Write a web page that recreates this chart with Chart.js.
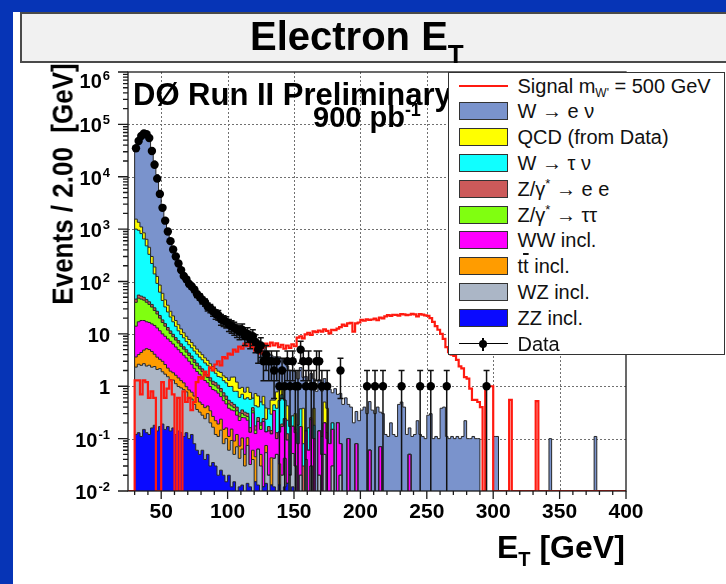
<!DOCTYPE html>
<html>
<head>
<meta charset="utf-8">
<title>Electron ET</title>
<script src="https://cdn.jsdelivr.net/npm/chart.js@4.4.1/dist/chart.umd.min.js"></script>
<style>
  body { margin: 0; width: 726px; height: 584px; overflow: hidden; position: relative;
         background: #0634b6; font-family: "Liberation Sans", Arial, Helvetica, sans-serif; color: #000; }
  #panel { position: absolute; left: 13px; top: 12px; width: 713px; height: 572px; background: #fff; }
  #plot { position: absolute; left: 0; top: 0; }
  .t { position: absolute; white-space: nowrap; line-height: 1; font-weight: bold; }
  #titlebox { position: absolute; left: 20px; top: 12px; width: 720px; height: 51px; box-sizing: border-box;
              background: #f1f1f1; border: 2px solid #4a4a4a; }
  #legend { position: absolute; left: 448px; top: 72px; width: 277px; height: 283px; box-sizing: border-box;
            background: #fff; border: 1.5px solid #333; }
  #legend .row { position: absolute; left: 0; width: 100%; height: 24px; }
  #legend .sw { position: absolute; left: 9.5px; top: 3px; width: 49px; height: 18px; box-sizing: border-box; border: 1px solid #333; }
  #legend .txt { position: absolute; left: 68.5px; top: 0; line-height: 24px; font-size: 20px; white-space: nowrap; color: #111; }
  #legend sub { font-size: 12px; vertical-align: -4px; line-height: 0; }
  #legend sup { font-size: 13px; vertical-align: 8px; line-height: 0; }
  .ob { text-decoration: overline; }
</style>
</head>
<body>
<div id="panel"></div>
<canvas id="plot" width="726" height="584"></canvas>

<div id="titlebox"></div>
<div class="t" style="left:250px; top:16px; font-size:40px;">Electron E<span style="font-size:26px; position:relative; top:13px;">T</span></div>

<div class="t" style="left:133px; top:79px; font-size:31px;">D&Oslash; Run II Preliminary</div>
<div class="t" style="left:313px; top:103px; font-size:29px;">900 pb<span style="font-size:18px; position:relative; top:-11px;">-1</span></div>

<div class="t" style="left:-68px; top:168px; width:260px; height:32px; line-height:32px; text-align:center; font-size:26px; transform:rotate(-90deg) scaleY(1.15);">Events / 2.00&nbsp; [GeV]</div>
<div class="t" style="left:497px; top:531px; font-size:32px;">E<span style="font-size:20px; position:relative; top:8px;">T</span> [GeV]</div>

<div id="legend"></div>

<script>
// binning: 2 GeV bins, first filled bin starts at 30 GeV
var xLo = 25, xHi = 400, firstEdge = 30, binWidth = 2;
var nBins = (xHi - firstEdge) / binWidth;
var yMin = 0.01, yMax = 1e6;

var xTickLabels = [50, 100, 150, 200, 250, 300, 350, 400];
var yDecades = [-2, -1, 0, 1, 2, 3, 4, 5, 6];

// MC backgrounds, events per bin (bins from 30 GeV)
var zzIncl = [
  0.12, 0.13, 0.11, 0.15, 0.13, 0.12, 0.16, 0.18, 0.14, 0.17,
  0.19, 0.15, 0.17, 0.14, 0.16, 0.12, 0.14, 0.13, 0.11, 0.13,
  0.10, 0.12, 0.08, 0.06, 0.05, 0.06, 0.04, 0.05, 0.03, 0.035,
  0.03, 0.02, 0.025, 0.02, 0.015, 0.02, 0.012, 0.015, 0, 0.012,
  0.013, 0, 0.014, 0.012, 0, 0.015, 0.013, 0, 0.012, 0.014,
  0, 0.013, 0.012, 0, 0.013, 0, 0.012, 0.014, 0, 0.012
];
var wzIncl = [
  2.2, 2.5, 2.4, 2.55, 2.3, 2.4, 2.15, 2.2, 1.95, 2.0,
  1.7, 1.55, 1.35, 1.2, 1.15, 1.0, 0.85, 0.8, 0.75, 0.65,
  0.5, 0.45, 0.37, 0.3, 0.27, 0.22, 0.2, 0.25, 0.17, 0.13,
  0.09, 0.09, 0.12, 0.06, 0.085, 0.04, 0.08, 0.035, 0.07, 0.03,
  0.05, 0.03, 0.06, 0.02, 0.04, 0, 0.05, 0.03, 0, 0.04,
  0.02, 0, 0.03, 0.05, 0, 0.02, 0.03, 0, 0.02, 0.04,
  0.03, 0, 0.02, 0, 0.04, 0, 0.03, 0, 0, 0.02,
  0, 0.05, 0, 0, 0.03, 0, 0, 0.02
];
var ttIncl = [
  1.3, 1.4, 1.9, 2.2, 2.8, 2.5, 2.3, 1.7, 1.5, 1.1,
  1.1, 0.9, 0.7, 0.6, 0.5, 0.5, 0.45, 0.35, 0.3, 0.2,
  0.25, 0.2, 0.2, 0.25, 0.18, 0.17, 0.15, 0.12, 0.14, 0.1,
  0.1, 0.08, 0.09, 0.07, 0.06, 0.05, 0.06, 0.04, 0.05, 0.03,
  0.04, 0.02, 0.03, 0, 0.02, 0.03, 0, 0.02, 0, 0.02,
  0, 0.03, 0, 0, 0.02
];
var wwIncl = [
  10.4, 13, 13.6, 13.1, 11.8, 11.5, 10.9, 10.4, 9.4, 8.2,
  7.0, 6.4, 5.8, 5.25, 4.6, 4.0, 3.55, 3.1, 2.75, 2.5,
  2.15, 1.85, 1.55, 1.3, 1.2, 1.05, 0.9, 0.75, 0.65, 0.6,
  0.6, 0.55, 0.4, 0.38, 0.3, 0.27, 0.2, 0.25, 0.16, 0.15,
  0.15, 0.2, 0.12, 0.1, 0.25, 0.08, 0.15, 0.1, 0.2, 0.06,
  0.12, 0.08, 0.3, 0.05, 0.1, 0.15, 0.2, 0.08, 0, 0.12,
  0.1, 0.08, 0.15, 0, 0.1, 0.06, 0.2, 0.1, 0, 0.12,
  0.05, 0.15, 0.1, 0.08, 0.12, 0, 0.2, 0.06, 0, 0,
  0.1, 0, 0, 0.08, 0, 0, 0, 0, 0.06, 0,
  0, 0, 0.07, 0, 0, 0, 0, 0, 0, 0,
  0, 0, 0, 0.05
];
var zTauTau = [
  26, 31, 28, 26, 23, 20, 17, 13.5, 11, 8.5,
  6.5, 5, 3.8, 3.0, 2.4, 2.0, 1.7, 1.4, 1.2, 1.0,
  0.85, 0.75, 0.65, 0.55, 0.45, 0.4, 0.35, 0.3, 0.28, 0.22,
  0.2, 0.18, 0.15, 0.12, 0.1, 0.08, 0.07, 0.05, 0.06, 0.04,
  0.05, 0.03, 0.04, 0, 0.03, 0.02, 0, 0.03
];
var zEE = [
  6, 7, 6.5, 6, 5, 4.5, 4, 3.5, 3, 2.5,
  2, 1.7, 1.4, 1.2, 1.0, 0.85, 0.75, 0.65, 0.55, 0.5,
  0.45, 0.4, 0.35, 0.3, 0.27, 0.25, 0.22, 0.2, 0.18, 0.16,
  0.15, 0.13, 0.12, 0.1, 0.09, 0.08, 0.07, 0.06, 0.06, 0.05,
  0.05, 0.04, 0.04, 0.03, 0.05, 0.03, 0.04, 0.02, 0.03, 0,
  0.03, 0.02, 0, 0.03, 0, 0.02, 0, 0.03, 0, 0,
  0.02, 0, 0, 0.03, 0, 0, 0.02, 0, 0, 0,
  0, 0, 0.03
];
var wTauNu = [
  954, 895, 768, 600, 434, 289, 184, 108, 65, 40,
  25, 17, 13, 9.6, 7.2, 5.5, 4.0, 3.3, 2.75, 2.2,
  1.9, 1.65, 1.5, 1.35, 1.18, 1.05, 0.93, 0.85, 0.74, 0.72,
  0.6, 0.49, 0.58, 0.53, 0.51, 0.45, 0.5, 0.35, 0.4, 0.3,
  0.35, 0.25, 0.3, 0.4, 0.2, 0.25, 0.15, 0.3, 0.2, 0.1,
  0.2, 0.15, 0.1, 0.25, 0.4, 0.5, 0.3, 0.1, 0.15, 0.1,
  0, 0.1, 0.2, 0.05, 0, 0.1, 0, 0.08, 0, 0,
  0.06, 0, 0, 0, 0.05
];
var qcdData = [
  550, 400, 280, 200, 160, 120, 80, 50, 33, 23,
  16, 12, 9, 6, 5, 4, 3.5, 2.7, 2.1, 1.8,
  1.6, 1.4, 1.2, 1.0, 0.9, 0.8, 0.7, 0.6, 0.5, 0.4,
  0.4, 0.4, 0.35, 0.3, 0.3, 0.3, 0.5, 0.7, 0.4, 0.3,
  0.25, 0.2, 0.35, 0.2, 0, 0.3, 0.25, 0, 0.2, 0.15,
  0, 0.25, 0.1, 0.4, 0.5, 0.3, 0, 0.2, 0, 0,
  0.15, 0, 0, 0.3, 0, 0, 0, 0.2, 0, 0,
  0, 0.3, 0.25
];
var wENu = [
  30450, 44650, 56900, 65150, 63360, 54550, 35700, 19810, 10875, 5415,
  2840, 1555, 965, 623, 418, 292, 215, 162, 130, 103,
  84, 71, 60, 52, 45.5, 40, 35.5, 31, 27.3, 24.6,
  22.3, 20, 18.2, 16.4, 15, 13.5, 12.8, 11.6, 10.9, 10,
  9.3, 8.6, 7.9, 7.3, 6.6, 6.1, 5.4, 5.0, 4.6, 4.1,
  3.8, 3.4, 3.1, 2.9, 2.6, 2.4, 2.2, 2.0, 1.85, 1.7,
  1.6, 1.2, 1.9, 1.1, 1.4, 0.9, 1.5, 1.0, 0.8, 1.2,
  0.7, 0.9, 0.6, 0.8, 0.55, 0.9, 0.5, 0.65, 0.45, 0.6,
  0.35, 0.4, 0.2, 0.25, 0.22, 0.35, 0.4, 0.3, 0.45, 0.35,
  0.3, 0.4, 0.25, 0.3, 0.12, 0.11, 0.2, 0.12, 0.11, 0.45,
  0.5, 0.4, 0.12, 0.11, 0.11, 0.12, 0.22, 0.12, 0.11, 0.1,
  0.28, 0.3, 0.1, 0.11, 0.1, 0.38, 0.4, 0.11, 0.1, 0.11,
  0.1, 0.11, 0.1, 0.11, 0.22, 0.1, 0.1, 0.11, 0.1, 0.1,
  0, 0, 0, 0, 0, 0.11, 0.11, 0, 0, 0,
  0, 0, 0, 0, 0, 0, 0, 0, 0, 0,
  0, 0, 0, 0, 0, 0, 0.1, 0, 0, 0,
  0, 0, 0, 0, 0, 0, 0, 0, 0, 0,
  0, 0, 0, 0.11
];

// W' signal, m = 500 GeV
var signalWp = [
  1.3, 1.3, 0.7, 1.3, 1.2, 0.6, 0.8, 0.6, 0, 0,
  1.2, 0.6, 0.9, 1.3, 0.7, 0, 0.6, 0, 0.8, 0.5,
  0.6, 0.35, 0.5, 1.2, 1.5, 1.4, 1.9, 1.6, 2.3, 2.0,
  2.6, 3.0, 2.5, 3.6, 3.4, 4.2, 4.0, 5.0, 4.6, 5.7,
  5.2, 6.5, 5.8, 6.8, 5.5, 4.8, 6.2, 4.2, 5.5, 6.5,
  5.8, 6.8, 6.0, 6.6, 5.6, 6.2, 5.2, 6.0, 5.4, 6.3,
  5.8, 8.5, 9.0, 8.2, 9.8, 10.5, 9.6, 11.2, 10.8, 11.6,
  11.0, 12.2, 11.4, 10.2, 12.0, 11.8, 12.6, 13.5, 15.0, 14.2,
  15.8, 16.2, 11.0, 15.8, 16.5, 18.5, 17.8, 19.0, 18.4, 18.8,
  19.5, 18.2, 20.5, 19.8, 21.5, 22.8, 22.0, 23.2, 23.0, 22.4,
  23.8, 23.5, 22.8, 23.2, 24.0, 23.6, 21.5, 23.8, 23.4, 22.6,
  22.0, 20.0, 17.0, 14.0, 12.0, 10.0, 8.0, 5.6, 4.5, 4.0,
  3.8, 3.2, 2.4, 2.2, 1.5, 1.4, 0.9, 0.55, 0.55, 0.5,
  0.4, 0, 1.0, 1.0, 1.0, 0, 0, 0, 0, 0,
  0, 0.55, 0, 0, 0, 0, 0, 0, 0, 0,
  0, 0.52
];

// observed events per bin
var dataCounts = [
  35000, 48000, 60000, 67000, 65000, 55000, 31000, 17000, 9200, 4700,
  2550, 1450, 900, 590, 410, 300, 220, 165, 128, 110,
  90, 80, 70, 57, 51, 44, 40, 33, 31, 27,
  24, 23, 19, 18, 17, 15, 14, 13, 12, 11,
  12, 9, 10, 8, 9, 7, 5, 6, 3, 4,
  3, 3, 2, 3, 1, 2, 1, 3, 1, 3,
  1, 1, 5, 3, 1, 3, 1, 1, 3, 3,
  1, 0, 1, 0, 0, 0, 0, 2, 0, 0,
  0, 0, 0, 0, 0, 0, 0, 1, 0, 0,
  1, 0, 0, 1, 0, 0, 0, 0, 0, 0,
  1, 0, 0, 0, 0, 0, 0, 1, 0, 0,
  0, 1, 0, 0, 0, 0, 0, 1, 0, 0,
  0, 0, 0, 0, 0, 0, 0, 0, 0, 0,
  0, 0, 1
];

// stack, bottom to top
var stackVals = [zzIncl, wzIncl, ttIncl, wwIncl, zTauTau, zEE, wTauNu, qcdData, wENu];
var stackLabels = ['ZZ incl.', 'WZ incl.', 't<span class="ob">t</span> incl.', 'WW incl.',
  'Z/&gamma;<sup>*</sup> &rarr; &tau;&tau;', 'Z/&gamma;<sup>*</sup> &rarr; e e',
  'W &rarr; &tau; &nu;', 'QCD (from Data)', 'W &rarr; e &nu;'];
var stackColors = ['#0a0aff', '#abb6c6', '#ff9c00', '#ff00ff', '#80ff10', '#cc5a5a', '#10ffff', '#ffff00', '#7a93cc'];
var signalColor = '#ff1a10';
var outline = '#262626';

// histogram as step points at the bin low edges.
// a log axis drops zeros, so empty bins get a floor value instead
function stepPoints(vals, floor) {
  var pts = [{x: xLo, y: floor}];
  for (var i = 0; i < nBins; i++) {
    var v = vals[i] || 0;
    pts.push({x: firstEdge + i * binWidth, y: v > 0 ? v : floor});
  }
  pts.push({x: xHi, y: floor});
  return pts;
}

var dataPts = [];
for (var i = 0; i < dataCounts.length; i++) {
  if (dataCounts[i] > 0) dataPts.push({x: firstEdge + (i + 0.5) * binWidth, y: dataCounts[i]});
}

var datasets = [
  {
    label: 'Data', data: dataPts, stack: 'obs', showLine: false,
    pointRadius: 4.2, pointBackgroundColor: '#000', pointBorderWidth: 0
  },
  {
    // empty signal bins sit on the axis floor, as the histogram line does
    label: 'Signal', data: stepPoints(signalWp, yMin), stack: 'sig', stepped: true,
    borderColor: signalColor, borderWidth: 2.2, fill: false, pointRadius: 0
  }
];
stackVals.forEach(function(vals, k) {
  datasets.push({
    label: stackLabels[k], data: stepPoints(vals, 1e-9), stack: 'mc', stepped: true,
    borderColor: outline, borderWidth: 1, backgroundColor: stackColors[k],
    fill: k === 0 ? 'start' : '-1', pointRadius: 0
  });
});

// sqrt(N) error bars under the data markers
var errorBars = {
  id: 'errorBars',
  beforeDatasetDraw: function(chart, args) {
    if (args.index !== 0) return;
    var c = chart.ctx, a = chart.chartArea, ys = chart.scales.y;
    var meta = chart.getDatasetMeta(0);
    c.save();
    c.beginPath();
    c.rect(a.left, a.top, a.right - a.left, a.bottom - a.top);
    c.clip();
    c.strokeStyle = '#111';
    c.lineWidth = 1.5;
    c.beginPath();
    meta.data.forEach(function(el, i) {
      var n = dataPts[i].y, s = Math.sqrt(n);
      var hi = ys.getPixelForValue(n + s);
      var lo = n - s > 0 ? ys.getPixelForValue(n - s) : a.bottom + 5;
      c.moveTo(el.x, hi); c.lineTo(el.x, lo);
      c.moveTo(el.x - 3, hi); c.lineTo(el.x + 3, hi);
      c.moveTo(el.x - 3, lo); c.lineTo(el.x + 3, lo);
    });
    c.stroke();
    c.restore();
  }
};

// dotted grid, frame, ticks and tick labels
var axisDeco = {
  id: 'axisDeco',
  beforeDatasetsDraw: function(chart) {
    var c = chart.ctx, a = chart.chartArea, xs = chart.scales.x, ys = chart.scales.y;
    c.save();
    c.strokeStyle = '#707070';
    c.lineWidth = 1;
    c.setLineDash([2, 2]);
    c.beginPath();
    xTickLabels.forEach(function(v) {
      var px = Math.round(xs.getPixelForValue(v)) + 0.5;
      if (px >= a.right - 2) return;
      c.moveTo(px, a.top); c.lineTo(px, a.bottom);
    });
    yDecades.forEach(function(k) {
      var py = Math.round(ys.getPixelForValue(Math.pow(10, k))) + 0.5;
      if (py <= a.top + 2 || py >= a.bottom - 2) return;
      c.moveTo(a.left, py); c.lineTo(a.right, py);
    });
    c.stroke();
    c.restore();
  },
  afterDraw: function(chart) {
    var c = chart.ctx, a = chart.chartArea, xs = chart.scales.x, ys = chart.scales.y;
    var font = '"Liberation Sans", Arial, Helvetica, sans-serif';
    c.save();
    c.strokeStyle = '#1a1a1a';
    c.lineWidth = 1.3;
    c.strokeRect(a.left, a.top, a.right - a.left, a.bottom - a.top);

    c.beginPath();
    for (var e = 30; e <= xHi; e += 10) {
      var px = xs.getPixelForValue(e);
      c.moveTo(px, a.bottom); c.lineTo(px, a.bottom + (e % 50 === 0 ? 8 : 4));
    }
    yDecades.forEach(function(k) {
      for (var m = 1; m <= 9; m++) {
        var v = m * Math.pow(10, k);
        if (v > ys.max * 1.0001) break;
        var py = ys.getPixelForValue(v);
        c.moveTo(a.left, py); c.lineTo(a.left - (m === 1 ? 10 : 5), py);
      }
    });
    c.stroke();

    c.fillStyle = '#000';
    c.textBaseline = 'alphabetic';
    c.font = 'bold 21px ' + font;
    c.textAlign = 'center';
    xTickLabels.forEach(function(v) {
      c.fillText(String(v), xs.getPixelForValue(v), a.bottom + 27);
    });

    var right = a.left - 18;
    yDecades.forEach(function(k) {
      var base = k === 0 ? '1' : '10';
      var sup = (k === 0 || k === 1) ? '' : String(k);
      var py = ys.getPixelForValue(Math.pow(10, k)) + (k === 6 ? 16 : 8);
      c.textAlign = 'right';
      c.font = 'bold 13px ' + font;
      var ws = sup ? c.measureText(sup).width + 1 : 0;
      if (sup) c.fillText(sup, right, py - 8);
      c.font = 'bold 20px ' + font;
      c.fillText(base, right - ws, py);
    });
    c.restore();
  }
};

new Chart(document.getElementById('plot'), {
  type: 'line',
  data: { datasets: datasets },
  options: {
    responsive: false,
    animation: false,
    layout: { padding: { left: 128, top: 72, right: 100, bottom: 93 } },
    plugins: { legend: { display: false }, tooltip: { enabled: false } },
    scales: {
      x: { type: 'linear', min: xLo, max: xHi, display: false },
      y: { type: 'logarithmic', min: yMin, max: yMax, stacked: true, display: false }
    }
  },
  plugins: [axisDeco, errorBars]
});

// legend box, top to bottom
var legendRows = [{kind: 'line', color: signalColor, html: 'Signal m<sub>W\'</sub> = 500 GeV'}];
for (var k = stackVals.length - 1; k >= 0; k--) {
  legendRows.push({kind: 'box', color: stackColors[k], html: stackLabels[k]});
}
legendRows.push({kind: 'data', color: '#000', html: 'Data'});

var leg = document.getElementById('legend');
legendRows.forEach(function(r, i) {
  var row = document.createElement('div');
  row.className = 'row';
  row.style.top = (i * 25.8 + 0.5) + 'px';
  var mark = '';
  if (r.kind === 'box') {
    mark = '<div class="sw" style="background:' + r.color + '"></div>';
  } else if (r.kind === 'line') {
    mark = '<div style="position:absolute;left:9.5px;top:11px;width:49px;height:2px;background:' + r.color + '"></div>';
  } else {
    mark = '<div style="position:absolute;left:9.5px;top:11.5px;width:49px;height:1.3px;background:#000"></div>' +
           '<div style="position:absolute;left:33px;top:6px;width:1.5px;height:13px;background:#000"></div>' +
           '<div style="position:absolute;left:29.8px;top:8.2px;width:8px;height:8px;border-radius:50%;background:#000"></div>';
  }
  row.innerHTML = mark + '<div class="txt">' + r.html + '</div>';
  leg.appendChild(row);
});
</script>
</body>
</html>
